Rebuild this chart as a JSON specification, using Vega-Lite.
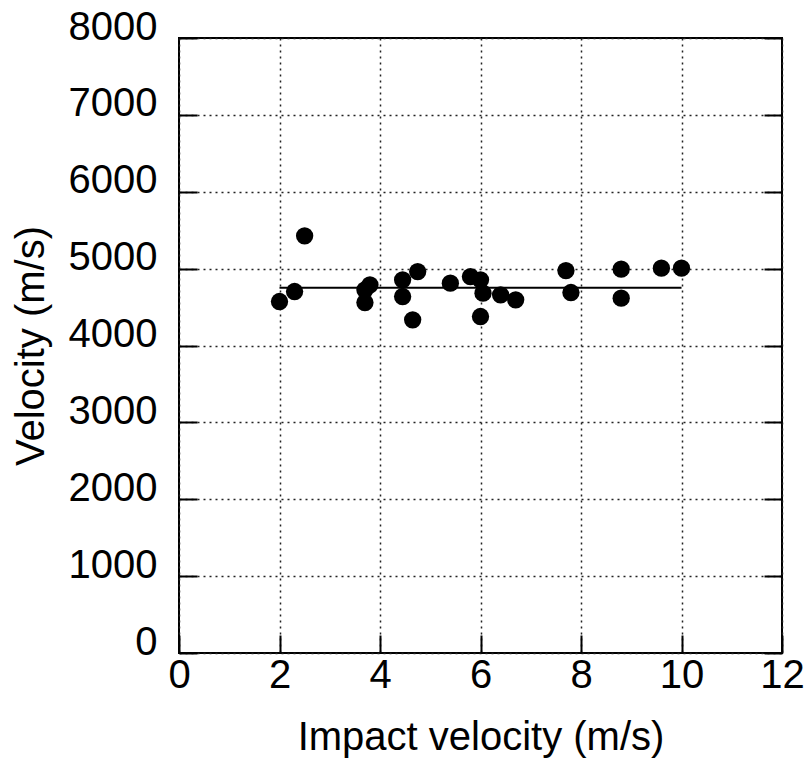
{
  "$schema": "https://vega.github.io/schema/vega-lite/v6.json",
  "width": 603,
  "height": 615,
  "autosize": {"type": "none"},
  "padding": {"left": 179, "top": 38, "right": 26, "bottom": 113},
  "background": "white",
  "config": {
    "font": "Liberation Sans",
    "view": {"stroke": "black", "strokeWidth": 2},
    "axis": {
      "domain": false,
      "ticks": true,
      "tickSize": -18,
      "tickWidth": 2,
      "tickColor": "black",
      "grid": true,
      "gridColor": "#222222",
      "gridDash": [2, 4],
      "gridWidth": 1.5,
      "labelFont": "Liberation Sans",
      "labelFontSize": 40,
      "labelColor": "black",
      "labelOverlap": false,
      "labelFlush": false,
      "titleFont": "Liberation Sans",
      "titleFontSize": 40,
      "titleFontWeight": "normal",
      "titleColor": "black"
    }
  },
  "datasets": {
    "measurements": [
      {"impact": 2.0, "velocity": 4572},
      {"impact": 2.3, "velocity": 4702},
      {"impact": 2.5, "velocity": 5427},
      {"impact": 3.7, "velocity": 4559},
      {"impact": 3.7, "velocity": 4724},
      {"impact": 3.8, "velocity": 4789},
      {"impact": 4.45, "velocity": 4854},
      {"impact": 4.45, "velocity": 4637},
      {"impact": 4.75, "velocity": 4962},
      {"impact": 4.65, "velocity": 4334},
      {"impact": 5.4, "velocity": 4811},
      {"impact": 5.8, "velocity": 4897},
      {"impact": 6.0, "velocity": 4854},
      {"impact": 6.05, "velocity": 4681},
      {"impact": 6.0, "velocity": 4377},
      {"impact": 6.4, "velocity": 4659},
      {"impact": 6.7, "velocity": 4594},
      {"impact": 7.7, "velocity": 4975},
      {"impact": 7.8, "velocity": 4689},
      {"impact": 8.8, "velocity": 4993},
      {"impact": 8.8, "velocity": 4616},
      {"impact": 9.6, "velocity": 5006},
      {"impact": 10.0, "velocity": 5006}
    ],
    "fit": [
      {"impact": 2, "velocity": 4750},
      {"impact": 10, "velocity": 4750}
    ]
  },
  "layer": [
    {
      "data": {"name": "fit"},
      "mark": {"type": "line", "color": "black", "strokeWidth": 2},
      "encoding": {
        "x": {
          "field": "impact",
          "type": "quantitative",
          "scale": {"domain": [0, 12], "nice": false, "zero": false},
          "axis": {
            "title": "Impact velocity (m/s)",
            "values": [0, 2, 4, 6, 8, 10, 12],
            "format": "d",
            "labelPadding": 20,
            "titlePadding": 22
          }
        },
        "y": {
          "field": "velocity",
          "type": "quantitative",
          "scale": {"domain": [0, 8000], "nice": false, "zero": false},
          "axis": {
            "orient": "right",
            "values": [0, 1000, 2000, 3000, 4000, 5000, 6000, 7000, 8000],
            "labels": false,
            "grid": false,
            "title": null
          }
        }
      }
    },
    {
      "data": {"name": "measurements"},
      "mark": {"type": "circle", "size": 300, "color": "black", "opacity": 1},
      "encoding": {
        "x": {"field": "impact", "type": "quantitative"},
        "y": {
          "field": "velocity",
          "type": "quantitative",
          "axis": {
            "orient": "left",
            "title": "Velocity (m/s)",
            "values": [0, 1000, 2000, 3000, 4000, 5000, 6000, 7000, 8000],
            "format": "d",
            "grid": true,
            "labelPadding": 40,
            "labelOffset": -11,
            "titlePadding": 17
          }
        }
      }
    }
  ],
  "resolve": {"axis": {"y": "independent"}}
}
